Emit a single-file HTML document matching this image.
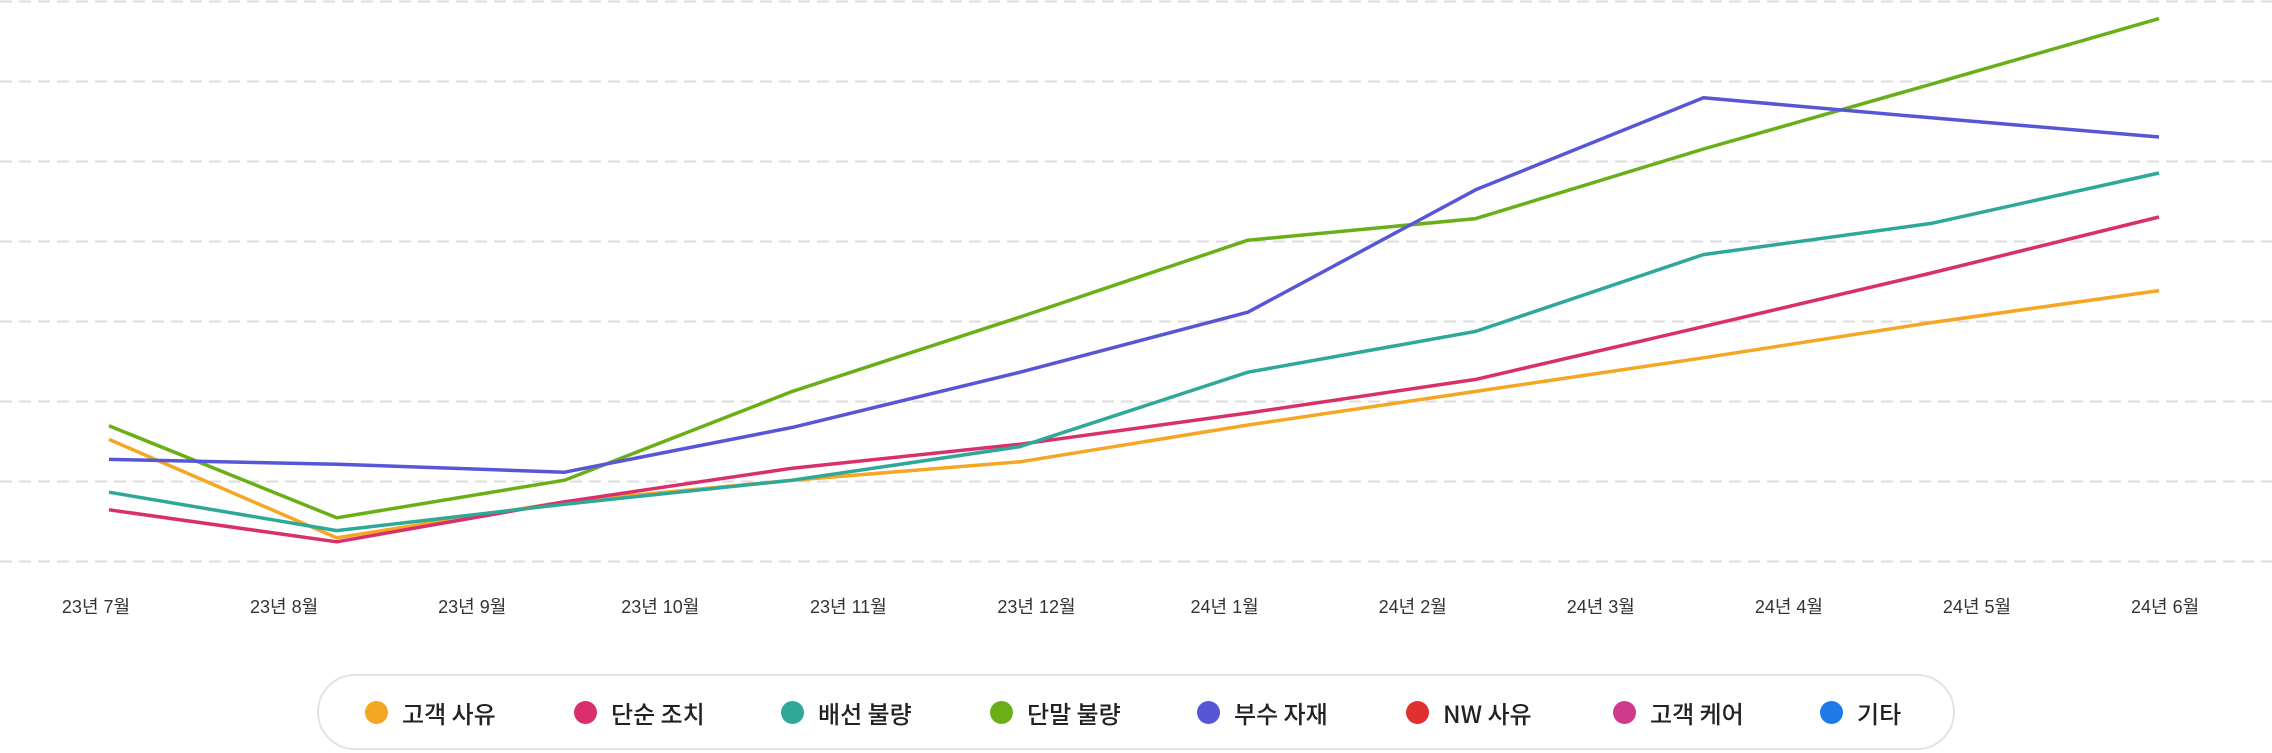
<!DOCTYPE html>
<html><head><meta charset="utf-8"><style>
html,body{margin:0;padding:0;background:#fff;width:2272px;height:753px;overflow:hidden;font-family:"Liberation Sans","Noto Sans CJK KR",sans-serif}
#legend{position:absolute;left:317px;top:674px;width:1638px;height:76px;border:2px solid #e3e3e6;border-radius:38px;box-sizing:border-box}
.item{position:absolute;top:0;height:72px;display:flex;align-items:center;font-size:24px;color:#222;font-family:"Noto Sans CJK KR",sans-serif;font-weight:500}
.dot{width:23px;height:23px;border-radius:50%;margin-right:14px}
</style></head><body>
<svg id="chart" width="2272" height="670" style="position:absolute;left:0;top:0"></svg>
<div id="legend">
<div class="item" style="left:46px"><span class="dot" style="background:#f5a623"></span>고객 사유</div>
<div class="item" style="left:255px"><span class="dot" style="background:#d9306b"></span>단순 조치</div>
<div class="item" style="left:462px"><span class="dot" style="background:#2fa899"></span>배선 불량</div>
<div class="item" style="left:671px"><span class="dot" style="background:#6aaf17"></span>단말 불량</div>
<div class="item" style="left:878px"><span class="dot" style="background:#5656d6"></span>부수 자재</div>
<div class="item" style="left:1087px"><span class="dot" style="background:#e03131"></span>NW 사유</div>
<div class="item" style="left:1294px"><span class="dot" style="background:#d03a8c"></span>고객 케어</div>
<div class="item" style="left:1501px"><span class="dot" style="background:#1f7ae8"></span>기타</div>
</div>
<script>
const months=["23년 7월","23년 8월","23년 9월","23년 10월","23년 11월","23년 12월","24년 1월","24년 2월","24년 3월","24년 4월","24년 5월","24년 6월"];
const gridTicks=[0,1,2,3,4,5,6,7];
const customerReason=[1.52,0.29,0.74,1.01,1.24,1.70,2.12,2.54,2.98,3.38];
const simpleAction=[0.64,0.24,0.74,1.16,1.46,1.85,2.27,2.93,3.60,4.30];
const wiringDefect=[0.86,0.38,0.71,1.01,1.43,2.36,2.87,3.83,4.22,4.85];
const deviceDefect=[1.69,0.54,1.01,2.12,3.05,4.01,4.28,5.15,5.96,6.78];
const accessory=[1.27,1.21,1.11,1.67,2.36,3.11,4.64,5.79,5.54,5.30];
const NS="http://www.w3.org/2000/svg";
const svg=document.getElementById('chart');
const y=v=>561-v*80;
const xl=i=>96+i*188.1;
const xp=(i,n)=>109+i*(2050/(n-1));
gridTicks.forEach(t=>{
  const l=document.createElementNS(NS,'line');
  
  
  l.setAttribute('x1',0);l.setAttribute('x2',2272);l.setAttribute('y1',y(t)+0.5);l.setAttribute('y2',y(t)+0.5);
  l.setAttribute('stroke','#dcdcdc');l.setAttribute('stroke-width','2');l.setAttribute('stroke-dasharray','12 7');
  svg.appendChild(l);
});
months.forEach((m,i)=>{
  const t=document.createElementNS(NS,'text');
  
  
  t.setAttribute('x',xl(i));t.setAttribute('y',613);t.setAttribute('text-anchor','middle');
  t.setAttribute('font-size','18');t.setAttribute('fill','#333');
  t.setAttribute('font-family','"Liberation Sans","Noto Sans CJK KR",sans-serif');
  t.textContent=m;svg.appendChild(t);
});
const series=[[customerReason,'#f5a623','series-customer-reason'],[simpleAction,'#d9306b','series-simple-action'],[wiringDefect,'#2fa899','series-wiring-defect'],[deviceDefect,'#6aaf17','series-device-defect'],[accessory,'#5656d6','series-accessory']];
series.forEach(([d,c,n])=>{
  const p=document.createElementNS(NS,'polyline');
  
  
  p.setAttribute('points',d.map((v,i)=>xp(i,d.length)+','+y(v)).join(' '));
  p.setAttribute('fill','none');p.setAttribute('stroke',c);p.setAttribute('stroke-width','3.5');p.setAttribute('stroke-linejoin','round');
  svg.appendChild(p);
});
</script>
</body></html>
